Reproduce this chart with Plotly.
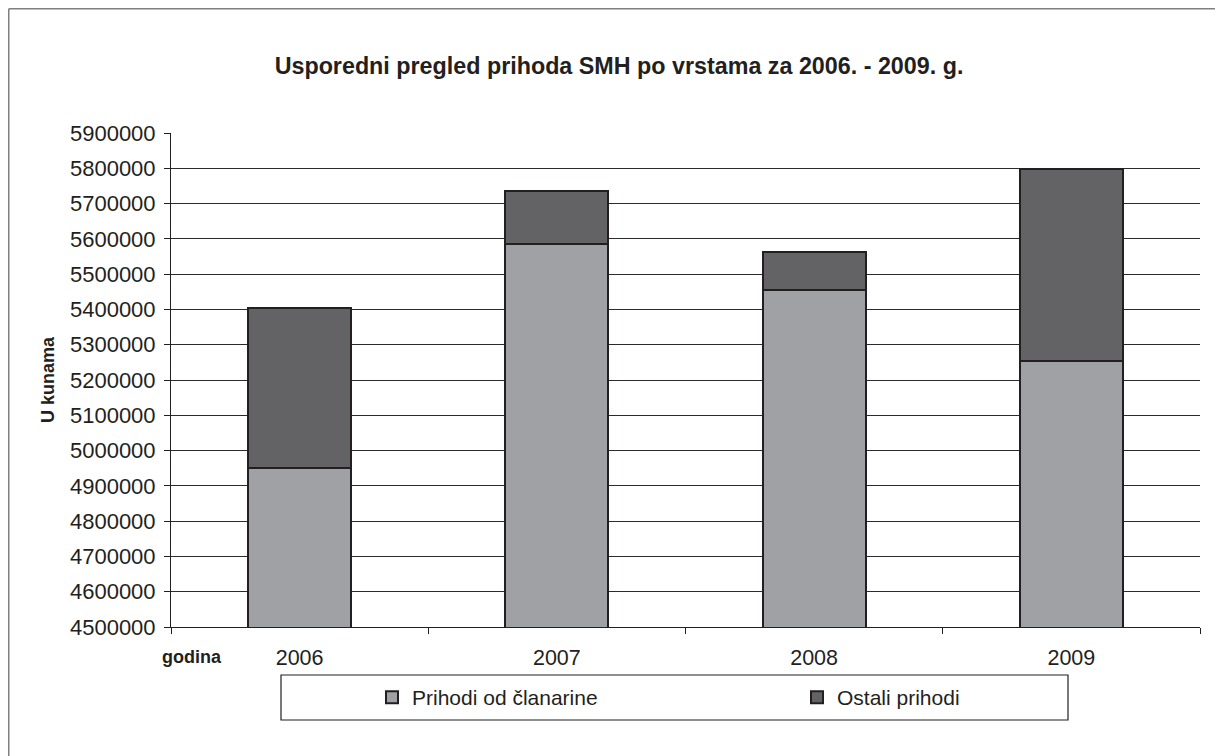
import plotly.graph_objects as go

years = ["2006", "2007", "2008", "2009"]
clanarine = [4952000, 5585000, 5455000, 5253000]
ostali = [451000, 150000, 108000, 544000]
y_ticks = list(range(4500000, 5900001, 100000))

DARK = "#231f20"
FONT = "Liberation Sans, Arial, sans-serif"

# page has an 8px body margin, so figure coords = reference coords - 8
W, H = 1215, 748
L, R, T, B = 163, 23, 125, 129
PW, PH = W - L - R, H - T - B


def px(xp):
    return (xp - L) / PW


def py(yp):
    return (H - B - yp) / PH


fig = go.Figure()
fig.add_trace(go.Bar(
    x=years, y=clanarine, name="Prihodi od članarine",
    marker=dict(color="#a0a1a5", line=dict(color=DARK, width=2)),
))
fig.add_trace(go.Bar(
    x=years, y=ostali, name="Ostali prihodi",
    marker=dict(color="#636366", line=dict(color=DARK, width=2)),
))

fig.update_layout(
    width=W, height=H,
    barmode="stack", bargap=0.6,
    paper_bgcolor="white", plot_bgcolor="white",
    margin=dict(l=L, r=R, t=T, b=B, autoexpand=False),
    font=dict(family=FONT, color=DARK, size=21),
    title=dict(
        text="<b>Usporedni pregled prihoda SMH po vrstama za 2006. - 2009. g.</b>",
        x=(619 - 8) / W, xanchor="center", y=1 - 58 / H, yanchor="middle",
        font=dict(size=23.3, family=FONT, color=DARK),
    ),
    xaxis=dict(
        type="category", tickson="boundaries", ticks="outside", ticklen=6,
        tickcolor=DARK, showline=True, linecolor=DARK, linewidth=1,
        showgrid=False, tickfont=dict(size=21.5), ticklabelstandoff=11,
    ),
    yaxis=dict(
        range=[4500000, 5900000], tickvals=y_ticks,
        ticktext=[str(v) for v in y_ticks],
        ticks="outside", ticklen=6, tickcolor=DARK,
        showline=True, linecolor=DARK, linewidth=1,
        showgrid=True, gridcolor="#2b2b2b", gridwidth=1,
        tickfont=dict(size=22), ticklabelstandoff=4,
        title=dict(text="<b>U kunama</b>", font=dict(size=18), standoff=10),
        zeroline=False,
    ),
    legend=dict(
        orientation="h", traceorder="normal",
        x=px(392 - 8 - 20), xanchor="left", y=py(697.5 - 8), yanchor="middle",
        bgcolor="rgba(0,0,0,0)", borderwidth=0,
        entrywidth=380, entrywidthmode="pixels",
        font=dict(size=21), itemwidth=30,
    ),
    showlegend=True,
)

# legend frame
fig.add_shape(type="rect", xref="paper", yref="paper",
              x0=px(281 - 8), x1=px(1068 - 8),
              y0=py(720 - 8), y1=py(675 - 8),
              line=dict(color=DARK, width=1.2), fillcolor="rgba(0,0,0,0)", layer="below")

# outer frame (open at right and bottom)
fig.add_shape(type="line", xref="paper", yref="paper",
              x0=px(0.75), x1=px(W),
              y0=py(0.75), y1=py(0.75),
              line=dict(color="#808080", width=1.5))
fig.add_shape(type="line", xref="paper", yref="paper",
              x0=px(0.75), x1=px(0.75),
              y0=py(0.75), y1=py(H),
              line=dict(color="#808080", width=1.5))

fig.add_annotation(text="<b>godina</b>", xref="paper", yref="paper",
                   x=px(192 - 8), y=py(657 - 8),
                   xanchor="center", yanchor="middle", showarrow=False,
                   font=dict(size=18, family=FONT, color=DARK))

fig.write_html("out.html")
